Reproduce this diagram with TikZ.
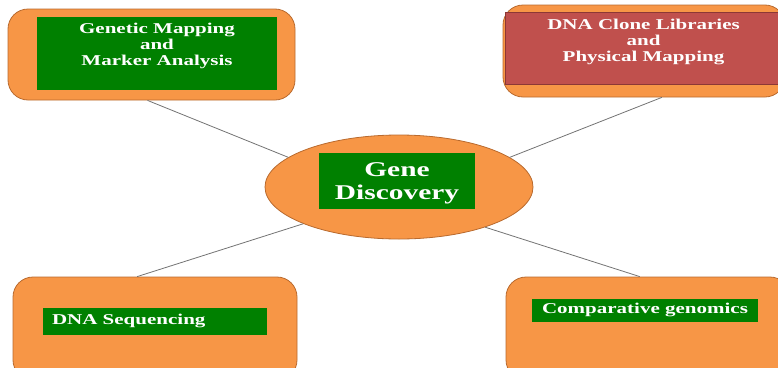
\documentclass[tikz,border=0pt]{standalone}
\usepackage{fontspec}
\usepackage{tikz}
\usetikzlibrary{shapes.geometric}
\newfontfamily\widefont[FakeStretch=1.4]{Liberation Serif}
\definecolor{boxorange}{HTML}{F79646}
\definecolor{boxedge}{HTML}{B96A2E}
\definecolor{boxgreen}{HTML}{008000}
\definecolor{boxred}{HTML}{C0504D}
\definecolor{rededge}{HTML}{8C3836}
% lift the text inside a box, keeping the box size
\newcommand{\lifted}[2]{\raisebox{#1}[\height][\depth]{\begin{tabular}{@{}c@{}}#2\end{tabular}}}
\tikzset{
  outerbox/.style={draw=boxedge, fill=boxorange, rounded corners=20pt, line width=0.8pt, inner sep=0pt},
  labelbox/.style={fill=boxgreen, inner sep=0pt, text=white, font=\widefont\bfseries\fontsize{15}{16}\selectfont},
  link/.style={draw=gray!90!black, line width=0.8pt},
}

\begin{document}
\begin{tikzpicture}[x=1pt, y=-1pt]
\useasboundingbox (0,0) rectangle (778,367);
\clip (0,0) rectangle (778,367);

% Outer orange boxes
\node[outerbox, minimum width=287pt, minimum height=91pt] (tl) at (151.5,54.5) {};
\node[outerbox, minimum width=282pt, minimum height=92pt] (tr) at (644,51) {};
\node[outerbox, minimum width=284pt, minimum height=103pt] (bl) at (155,328.5) {};
\node[outerbox, minimum width=284pt, minimum height=103pt] (br) at (648,328.5) {};

% Centre ellipse
\node[ellipse, draw=boxedge, fill=boxorange, line width=0.8pt, minimum width=268pt, minimum height=104pt, inner sep=0pt] (gd) at (399,187) {};

% Text boxes
\node[labelbox, minimum width=240pt, minimum height=73pt] (tltext) at (157,53.5) {
    \lifted{7pt}{Genetic Mapping\\and\\ Marker Analysis}
};
\node[labelbox, fill=boxred, draw=rededge, minimum width=277pt, minimum height=72pt] (trtext) at (643.5,48) {
    \lifted{6pt}{DNA Clone Libraries\\and\\Physical Mapping}
};
\node[labelbox, font=\widefont\bfseries\fontsize{21}{23}\selectfont, minimum width=156pt, minimum height=56pt] (gdtext) at (397,181) {
    \lifted{-2.5pt}{Gene\\Discovery}
};
\node[labelbox, inner xsep=9pt, minimum height=27pt] (bltext) at (155,321.5) {
    \lifted{0pt}{\makebox[206pt][l]{DNA Sequencing}}
};
\node[labelbox, minimum width=226pt, minimum height=23pt] (brtext) at (645,310.5) {
    \lifted{0pt}{Comparative genomics}
};

% Connectors
\draw[link] (gd.165) -- (tl.265);
\draw[link] (gd.15) -- (tr.291);
\draw[link] (gd.201) -- (bl.109);
\draw[link] (gd.335) -- (br.99);
\end{tikzpicture}
\end{document}
